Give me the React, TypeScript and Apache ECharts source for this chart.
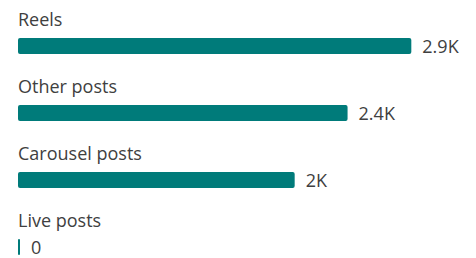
import React, { useEffect, useRef } from "react";
import * as echarts from "echarts";

const categories = ["Reels", "Other posts", "Carousel posts", "Live posts"];
const values = [2900, 2430, 2040, 0];

const fmt = (v: number) => {
  if (v === 0) return "0";
  const s = (v / 1000).toFixed(1).replace(/\.0$/, "");
  return s + "K";
};

export default function App() {
  const ref = useRef<HTMLDivElement>(null);
  useEffect(() => {
    if (!ref.current) return;
    const chart = echarts.init(ref.current, undefined, { renderer: "svg" });
    const font = "'Open Sans', 'Noto Sans', sans-serif";
    chart.setOption({
      animation: false,
      grid: { left: 18, top: 12.5, width: 434, height: 268 },
      xAxis: {
        type: "value",
        min: 0,
        max: 3200,
        show: false,
        splitLine: { show: false },
      },
      yAxis: {
        type: "category",
        inverse: true,
        data: categories,
        axisLine: { show: false },
        axisTick: { show: false },
        axisLabel: {
          inside: true,
          margin: 0,
          align: "left",
          verticalAlign: "bottom",
          padding: [0, 0, 18, 0],
          color: "#404040",
          fontSize: 18,
          fontFamily: font,
        },
      },
      series: [
        {
          type: "bar",
          data: values,
          barWidth: 16,
          barMinHeight: 2,
          itemStyle: { color: "#007B7A", borderRadius: 2 },
          label: {
            show: true,
            position: "right",
            distance: 11,
            color: "#404040",
            fontSize: 18,
            fontFamily: font,
            formatter: (p: any) => fmt(p.value),
          },
        },
      ],
    });
    return () => chart.dispose();
  }, []);
  return (
    <div style={{ position: "absolute", left: 0, top: 0, width: 476, height: 258, overflow: "hidden" }}>
      <div ref={ref} style={{ width: 476, height: 300 }} />
    </div>
  );
}
